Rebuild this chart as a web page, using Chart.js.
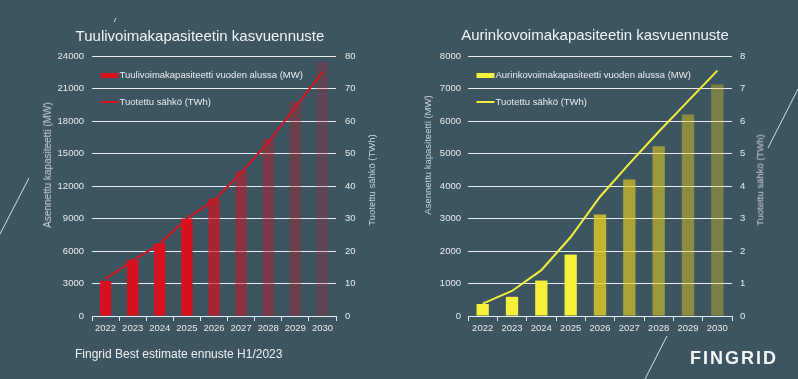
<!DOCTYPE html>
<html lang="fi">
<head>
<meta charset="utf-8">
<title>Tuuli- ja aurinkovoimakapasiteetin kasvuennuste</title>
<script src="https://cdn.jsdelivr.net/npm/chart.js@4.4.1/dist/chart.umd.min.js"></script>
<style>
  html, body { margin: 0; padding: 0; }
  body {
    width: 798px; height: 379px; position: relative; overflow: hidden;
    background: #3d5561;
    font-family: "Liberation Sans", Arial, sans-serif;
    color: #eef1f2;
  }
  .panel { position: absolute; top: 0; height: 379px; }
  .title { position: absolute; font-size: 15px; line-height: 1; white-space: nowrap; transform: translateX(-50%); color: #f1f4f5; }
  .axis-title {
    position: absolute; white-space: nowrap; line-height: 1; color: #c9d0d4;
    transform: translate(-50%, -50%) rotate(-90deg);
  }
  .footer { position: absolute; left: 75px; top: 348px; font-size: 12px; line-height: 1; font-family: "Liberation Sans Narrow", "Liberation Sans", Arial, sans-serif; font-stretch: condensed; }
  .logo { position: absolute; left: 690px; top: 349px; font-size: 18px; line-height: 1; font-weight: bold; letter-spacing: 2px; color: #f4f6f7; }
  svg.deco { position: absolute; left: 0; top: 0; pointer-events: none; }
</style>
</head>
<body>
<div class="panel" style="left:0;width:400px"><canvas id="windChart"></canvas></div>
<div class="panel" style="left:400px;width:398px"><canvas id="solarChart"></canvas></div>

<div class="title" style="left:200px;top:28px">Tuulivoimakapasiteetin kasvuennuste</div>
<div class="title" style="left:595px;top:26.5px">Aurinkovoimakapasiteetin kasvuennuste</div>

<div class="axis-title" style="left:48px;top:165px;font-size:10px">Asennettu kapasiteetti (MW)</div>
<div class="axis-title" style="left:372px;top:180px;font-size:9.5px">Tuotettu sähkö (TWh)</div>
<div class="axis-title" style="left:428px;top:155px;font-size:9.5px">Asennettu kapasiteetti (MW)</div>
<div class="axis-title" style="left:760px;top:180px;font-size:9.5px">Tuotettu sähkö (TWh)</div>

<div class="footer">Fingrid Best estimate ennuste H1/2023</div>
<div class="logo">FINGRID</div>

<svg class="deco" width="798" height="379">
  <g stroke="#d6dee2" stroke-width="1" fill="none">
    <line x1="0" y1="234" x2="29" y2="178" />
    <line x1="116" y1="18" x2="114" y2="22" />
    <line x1="798" y1="89" x2="768" y2="148" />
    <line x1="667" y1="336" x2="645" y2="379" />
  </g>
</svg>

<script>
const years = ['2022', '2023', '2024', '2025', '2026', '2027', '2028', '2029', '2030'];

// tuulivoima
const windCapacity = [3250, 5200, 6700, 9000, 10850, 13400, 16350, 19800, 23450];
const windEnergy = [11.4, 17, 22.2, 30, 35.5, 44.1, 53.4, 64.2, 75.1];
const windCapTicks = { max: 24000, step: 3000 };
const windEnergyTicks = { max: 80, step: 10 };

// aurinkovoima
const solarCapacity = [370, 590, 1090, 1890, 3120, 4200, 5220, 6200, 7120];
const solarEnergy = [0.38, 0.77, 1.41, 2.43, 3.67, 4.69, 5.67, 6.61, 7.55];
const solarCapTicks = { max: 8000, step: 1000 };
const solarEnergyTicks = { max: 8, step: 1 };

// bar colours: first four years solid, forecast years fading
const windBarColors = [
  'rgb(215,18,32)', 'rgb(215,18,32)', 'rgb(215,18,32)', 'rgb(215,18,32)',
  'rgba(215,18,32,0.69)', 'rgba(215,18,32,0.5)', 'rgba(215,18,32,0.4)',
  'rgba(215,18,32,0.3)', 'rgba(215,18,32,0.21)',
];
const solarBarColors = [
  'rgb(246,239,60)', 'rgb(246,239,60)', 'rgb(246,239,60)', 'rgb(246,239,60)',
  'rgba(236,213,27,0.75)', 'rgba(229,208,30,0.65)', 'rgba(230,207,27,0.55)',
  'rgba(237,209,25,0.45)', 'rgba(241,208,30,0.35)',
];

const TEXT = '#e8ecee';
const GRID = '#e6ebed';

Chart.defaults.font.family = '"Liberation Sans", Arial, sans-serif';
Chart.defaults.animation = false;

// legend drawn inside the plot area, top-left, one item per row
const insideLegend = {
  id: 'insideLegend',
  afterDatasetsDraw(chart) {
    const { ctx, chartArea } = chart;
    ctx.save();
    ctx.font = '9.5px "Liberation Sans", Arial, sans-serif';
    ctx.textBaseline = 'middle';
    chart.data.datasets.forEach((ds, i) => {
      const x = chartArea.left + 8.5;
      const y = chartArea.top + 19.5 + i * 26.5;
      const h = ds.type === 'line' ? 2 : 5;
      ctx.fillStyle = ds.legendColor;
      ctx.fillRect(x, y - h / 2, 18, h);
      ctx.fillStyle = TEXT;
      ctx.fillText(ds.label, x + 19, y);
    });
    ctx.restore();
  },
};

function buildChart(id, cfg) {
  const ctx = document.getElementById(id).getContext('2d');
  return new Chart(ctx, {
    type: 'bar',
    data: {
      labels: years,
      datasets: [
        {
          type: 'bar',
          label: cfg.barLabel,
          data: cfg.capacity,
          yAxisID: 'y',
          backgroundColor: cfg.barColors,
          legendColor: cfg.barColors[0],
          barPercentage: 0.42,
          categoryPercentage: 1,
          order: 2,
        },
        {
          type: 'line',
          label: cfg.lineLabel,
          data: cfg.energy,
          yAxisID: 'y1',
          borderColor: cfg.lineColor,
          legendColor: cfg.lineColor,
          borderWidth: 2,
          pointRadius: 0,
          tension: 0,
          order: 1,
        },
      ],
    },
    options: {
      responsive: true,
      maintainAspectRatio: false,
      layout: { padding: cfg.padding },
      plugins: { legend: { display: false }, tooltip: { enabled: false } },
      scales: {
        x: {
          grid: { drawOnChartArea: false, drawTicks: true, tickLength: 5, color: GRID, offset: true },
          border: { color: GRID },
          ticks: { color: TEXT, font: { size: 9.5 }, padding: 2, maxRotation: 0 },
          afterFit: (s) => { s.height = 22; },
        },
        y: {
          position: 'left',
          min: 0,
          max: cfg.capTicks.max,
          grid: { color: GRID, drawTicks: false },
          border: { display: false },
          ticks: { stepSize: cfg.capTicks.step, color: TEXT, font: { size: 9.5 }, padding: cfg.yPad, callback: (v) => String(v) },
          afterFit: (s) => { s.width = cfg.yWidth; },
        },
        y1: {
          position: 'right',
          min: 0,
          max: cfg.energyTicks.max,
          grid: { display: false, drawTicks: false },
          border: { display: false },
          ticks: { stepSize: cfg.energyTicks.step, color: TEXT, font: { size: 9.5 }, padding: cfg.y1Pad, callback: (v) => String(v) },
          afterFit: (s) => { s.width = 40; },
        },
      },
    },
    plugins: [insideLegend],
  });
}

buildChart('windChart', {
  capacity: windCapacity,
  energy: windEnergy,
  capTicks: windCapTicks,
  energyTicks: windEnergyTicks,
  barColors: windBarColors,
  lineColor: 'rgb(213,20,32)',
  barLabel: 'Tuulivoimakapasiteetti vuoden alussa (MW)',
  lineLabel: 'Tuotettu sähkö (TWh)',
  padding: { left: 40, right: 24, top: 56, bottom: 41 },
  yWidth: 52,
  yPad: 8,
  y1Pad: 9,
});

buildChart('solarChart', {
  capacity: solarCapacity,
  energy: solarEnergy,
  capTicks: solarCapTicks,
  energyTicks: solarEnergyTicks,
  barColors: solarBarColors,
  lineColor: 'rgb(243,238,60)',
  barLabel: 'Aurinkovoimakapasiteetti vuoden alussa (MW)',
  lineLabel: 'Tuotettu sähkö (TWh)',
  padding: { left: 20, right: 26, top: 56, bottom: 41 },
  yWidth: 48,
  yPad: 7,
  y1Pad: 8,
});
</script>
</body>
</html>
